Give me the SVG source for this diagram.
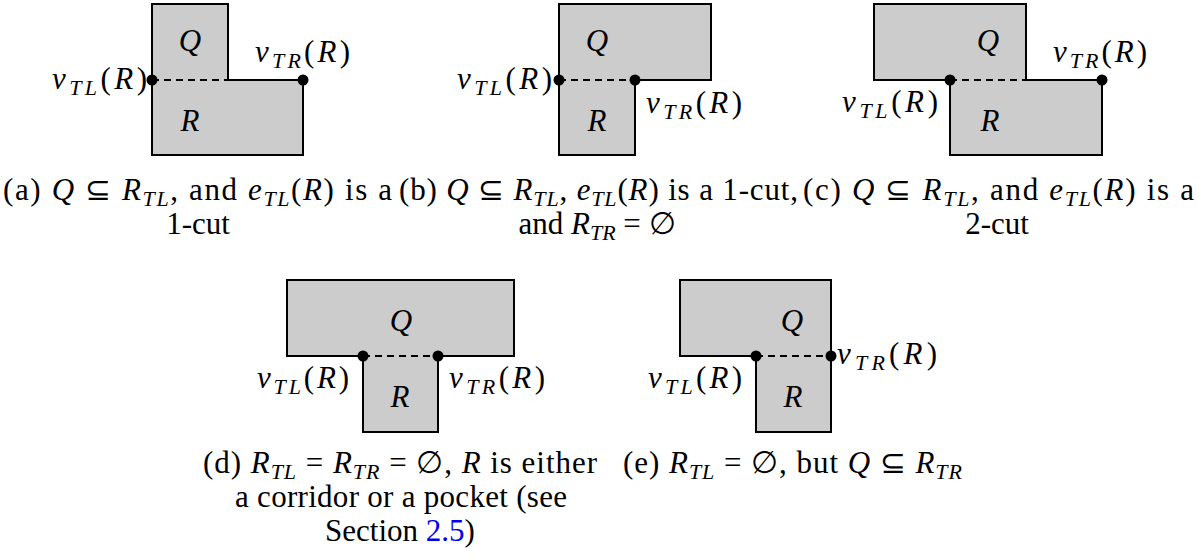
<svg xmlns="http://www.w3.org/2000/svg" width="1199" height="559" viewBox="0 0 1199 559">
<rect width="1199" height="559" fill="#fff"/>
<g id="fig-a">
  <path fill="#cccccc" stroke="#000" stroke-width="2" d="M152,4 H228 V80 H303 V155 H152 Z"/>
  <text font-family="Liberation Serif" font-size="31" font-style="italic" text-anchor="middle" x="190" y="51">Q</text>
  <text font-family="Liberation Serif" font-size="31" font-style="italic" text-anchor="middle" x="190" y="131">R</text>
  <text font-family="Liberation Serif" font-size="31" x="52" y="89" textLength="95" lengthAdjust="spacing"><tspan font-style="italic">v</tspan><tspan font-size="22" font-style="italic" dy="6">TL</tspan><tspan dy="-6">(</tspan><tspan font-style="italic">R</tspan>)</text>
  <text font-family="Liberation Serif" font-size="31" x="255" y="62" textLength="95" lengthAdjust="spacing"><tspan font-style="italic">v</tspan><tspan font-size="22" font-style="italic" dy="6">TR</tspan><tspan dy="-6">(</tspan><tspan font-style="italic">R</tspan>)</text>
  <circle cx="152" cy="80" r="5.5"/>
  <circle cx="303" cy="80" r="5.5"/>
  <text font-family="Liberation Serif" font-size="31" x="3" y="200" textLength="389" lengthAdjust="spacing">(a) <tspan font-style="italic">Q</tspan> ⊆ <tspan font-style="italic">R</tspan><tspan font-size="22" font-style="italic" dy="6">TL</tspan><tspan dy="-6">, and </tspan><tspan font-style="italic">e</tspan><tspan font-size="22" font-style="italic" dy="6">TL</tspan><tspan dy="-6">(</tspan><tspan font-style="italic">R</tspan>) is a</text>
  <text font-family="Liberation Serif" font-size="31" text-anchor="middle" x="198" y="234">1-cut</text>
</g>
<g id="fig-b">
  <path fill="#cccccc" stroke="#000" stroke-width="2" d="M559,4 H711 V80 H635 V155 H559 Z"/>
  <text font-family="Liberation Serif" font-size="31" font-style="italic" text-anchor="middle" x="597" y="51">Q</text>
  <text font-family="Liberation Serif" font-size="31" font-style="italic" text-anchor="middle" x="597" y="131">R</text>
  <text font-family="Liberation Serif" font-size="31" x="457" y="89" textLength="95" lengthAdjust="spacing"><tspan font-style="italic">v</tspan><tspan font-size="22" font-style="italic" dy="6">TL</tspan><tspan dy="-6">(</tspan><tspan font-style="italic">R</tspan>)</text>
  <text font-family="Liberation Serif" font-size="31" x="646" y="113" textLength="96" lengthAdjust="spacing"><tspan font-style="italic">v</tspan><tspan font-size="22" font-style="italic" dy="6">TR</tspan><tspan dy="-6">(</tspan><tspan font-style="italic">R</tspan>)</text>
  <circle cx="559" cy="80" r="5.5"/>
  <circle cx="635" cy="80" r="5.5"/>
  <text font-family="Liberation Serif" font-size="31" x="399" y="200" textLength="399" lengthAdjust="spacing">(b) <tspan font-style="italic">Q</tspan> ⊆ <tspan font-style="italic">R</tspan><tspan font-size="22" font-style="italic" dy="6">TL</tspan><tspan dy="-6">, </tspan><tspan font-style="italic">e</tspan><tspan font-size="22" font-style="italic" dy="6">TL</tspan><tspan dy="-6">(</tspan><tspan font-style="italic">R</tspan>) is a 1-cut,</text>
  <text font-family="Liberation Serif" font-size="31" text-anchor="middle" x="597" y="234">and <tspan font-style="italic">R</tspan><tspan font-size="22" font-style="italic" dy="6">TR</tspan><tspan dy="-6"> = ∅</tspan></text>
</g>
<g id="fig-c">
  <path fill="#cccccc" stroke="#000" stroke-width="2" d="M874,4 H1026 V80 H1102 V155 H950 V80 H874 Z"/>
  <text font-family="Liberation Serif" font-size="31" font-style="italic" text-anchor="middle" x="988" y="51">Q</text>
  <text font-family="Liberation Serif" font-size="31" font-style="italic" text-anchor="middle" x="990" y="131">R</text>
  <text font-family="Liberation Serif" font-size="31" x="842" y="112" textLength="96" lengthAdjust="spacing"><tspan font-style="italic">v</tspan><tspan font-size="22" font-style="italic" dy="6">TL</tspan><tspan dy="-6">(</tspan><tspan font-style="italic">R</tspan>)</text>
  <text font-family="Liberation Serif" font-size="31" x="1053" y="62" textLength="94" lengthAdjust="spacing"><tspan font-style="italic">v</tspan><tspan font-size="22" font-style="italic" dy="6">TR</tspan><tspan dy="-6">(</tspan><tspan font-style="italic">R</tspan>)</text>
  <circle cx="950" cy="80" r="5.5"/>
  <circle cx="1102" cy="80" r="5.5"/>
  <text font-family="Liberation Serif" font-size="31" x="803" y="200" textLength="391" lengthAdjust="spacing">(c) <tspan font-style="italic">Q</tspan> ⊆ <tspan font-style="italic">R</tspan><tspan font-size="22" font-style="italic" dy="6">TL</tspan><tspan dy="-6">, and </tspan><tspan font-style="italic">e</tspan><tspan font-size="22" font-style="italic" dy="6">TL</tspan><tspan dy="-6">(</tspan><tspan font-style="italic">R</tspan>) is a</text>
  <text font-family="Liberation Serif" font-size="31" text-anchor="middle" x="997" y="234">2-cut</text>
</g>
<g id="fig-d">
  <path fill="#cccccc" stroke="#000" stroke-width="2" d="M287,280 H514 V356 H438 V432 H363 V356 H287 Z"/>
  <text font-family="Liberation Serif" font-size="31" font-style="italic" text-anchor="middle" x="401" y="331">Q</text>
  <text font-family="Liberation Serif" font-size="31" font-style="italic" text-anchor="middle" x="400" y="407">R</text>
  <text font-family="Liberation Serif" font-size="31" x="257" y="388" textLength="92" lengthAdjust="spacing"><tspan font-style="italic">v</tspan><tspan font-size="22" font-style="italic" dy="6">TL</tspan><tspan dy="-6">(</tspan><tspan font-style="italic">R</tspan>)</text>
  <text font-family="Liberation Serif" font-size="31" x="449" y="388" textLength="96" lengthAdjust="spacing"><tspan font-style="italic">v</tspan><tspan font-size="22" font-style="italic" dy="6">TR</tspan><tspan dy="-6">(</tspan><tspan font-style="italic">R</tspan>)</text>
  <circle cx="363" cy="356" r="5.5"/>
  <circle cx="438" cy="356" r="5.5"/>
  <text font-family="Liberation Serif" font-size="31" x="203" y="473" textLength="394" lengthAdjust="spacing">(d) <tspan font-style="italic">R</tspan><tspan font-size="22" font-style="italic" dy="6">TL</tspan><tspan dy="-6"> = </tspan><tspan font-style="italic">R</tspan><tspan font-size="22" font-style="italic" dy="6">TR</tspan><tspan dy="-6"> = ∅, </tspan><tspan font-style="italic">R</tspan> is either</text>
  <text font-family="Liberation Serif" font-size="31" text-anchor="middle" x="401" y="507" textLength="332" lengthAdjust="spacing">a corridor or a pocket (see</text>
  <text font-family="Liberation Serif" font-size="31" text-anchor="middle" x="400" y="541">Section <tspan fill="#0000ee">2.5</tspan>)</text>
</g>
<g id="fig-e">
  <path fill="#cccccc" stroke="#000" stroke-width="2" d="M680,280 H831 V432 H756 V356 H680 Z"/>
  <text font-family="Liberation Serif" font-size="31" font-style="italic" text-anchor="middle" x="792" y="331">Q</text>
  <text font-family="Liberation Serif" font-size="31" font-style="italic" text-anchor="middle" x="793" y="407">R</text>
  <text font-family="Liberation Serif" font-size="31" x="648" y="388" textLength="94" lengthAdjust="spacing"><tspan font-style="italic">v</tspan><tspan font-size="22" font-style="italic" dy="6">TL</tspan><tspan dy="-6">(</tspan><tspan font-style="italic">R</tspan>)</text>
  <text font-family="Liberation Serif" font-size="31" x="837" y="364" textLength="100" lengthAdjust="spacing"><tspan font-style="italic">v</tspan><tspan font-size="22" font-style="italic" dy="6">TR</tspan><tspan dy="-6">(</tspan><tspan font-style="italic">R</tspan>)</text>
  <circle cx="756" cy="356" r="5.5"/>
  <circle cx="831" cy="356" r="5.5"/>
  <text font-family="Liberation Serif" font-size="31" x="623" y="473" textLength="339" lengthAdjust="spacing">(e) <tspan font-style="italic">R</tspan><tspan font-size="22" font-style="italic" dy="6">TL</tspan><tspan dy="-6"> = ∅, but </tspan><tspan font-style="italic">Q</tspan> ⊆ <tspan font-style="italic">R</tspan><tspan font-size="22" font-style="italic" dy="6">TR</tspan></text>
</g>
<g id="connectors" fill="none" stroke="#000" stroke-width="2" stroke-dasharray="7 5">
  <path d="M152,80 H228"/>
  <path d="M559,80 H635"/>
  <path d="M950,80 H1026"/>
  <path d="M363,356 H438"/>
  <path d="M756,356 H831"/>
</g>
</svg>
